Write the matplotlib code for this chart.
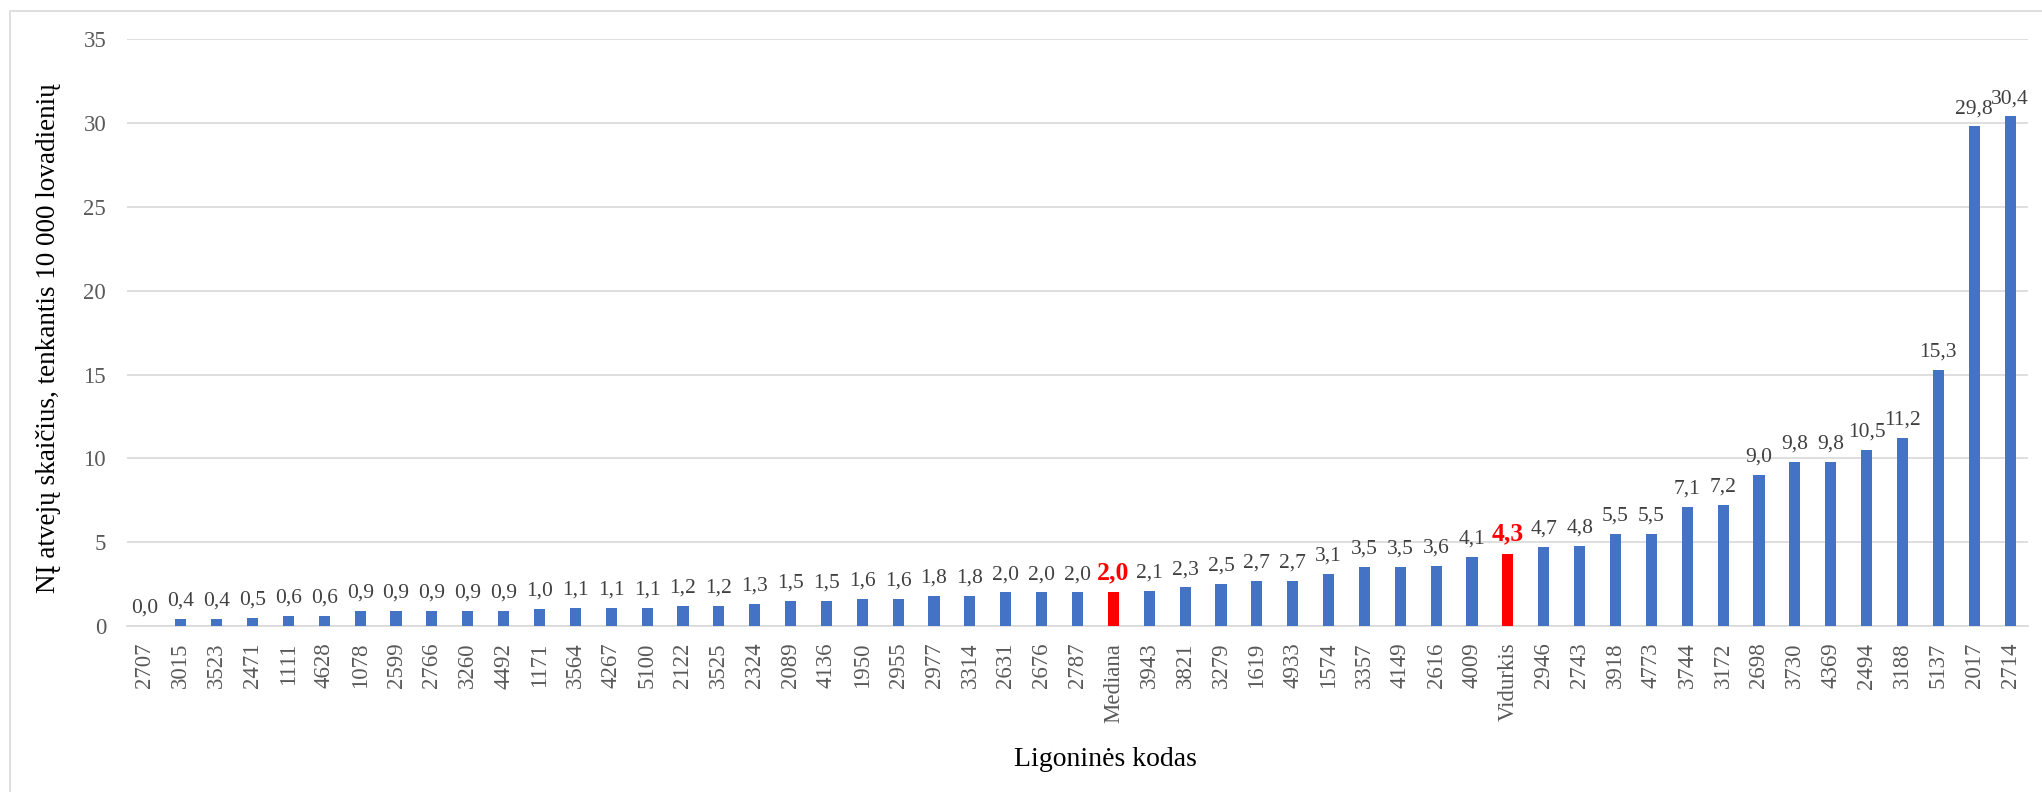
import matplotlib
matplotlib.use('Agg')
import matplotlib.pyplot as plt
import matplotlib.patches as patches

plt.rcParams['font.family'] = ['Liberation Serif', 'DejaVu Serif']

# Ligoninių kodai ir NĮ atvejų skaičius 10 000 lovadienių
codes = ['2707', '3015', '3523', '2471', '1111', '4628', '1078', '2599', '2766',
         '3260', '4492', '1171', '3564', '4267', '5100', '2122', '3525', '2324',
         '2089', '4136', '1950', '2955', '2977', '3314', '2631', '2676', '2787',
         'Mediana', '3943', '3821', '3279', '1619', '4933', '1574', '3357', '4149',
         '2616', '4009', 'Vidurkis', '2946', '2743', '3918', '4773', '3744', '3172',
         '2698', '3730', '4369', '2494', '3188', '5137', '2017', '2714']
values = [0.0, 0.4, 0.4, 0.5, 0.6, 0.6, 0.9, 0.9, 0.9,
          0.9, 0.9, 1.0, 1.1, 1.1, 1.1, 1.2, 1.2, 1.3,
          1.5, 1.5, 1.6, 1.6, 1.8, 1.8, 2.0, 2.0, 2.0,
          2.0, 2.1, 2.3, 2.5, 2.7, 2.7, 3.1, 3.5, 3.5,
          3.6, 4.1, 4.3, 4.7, 4.8, 5.5, 5.5, 7.1, 7.2,
          9.0, 9.8, 9.8, 10.5, 11.2, 15.3, 29.8, 30.4]
highlight = ['Mediana', 'Vidurkis']

blue = '#4472C4'
red = '#FF0000'
grid_c = '#D9D9D9'

fig = plt.figure(figsize=(20.42, 7.92), dpi=100)
ax = fig.add_axes([127 / 2042, 1 - 626 / 792, 1901 / 2042, 586.7 / 792])

x = list(range(len(codes)))
colors = [red if c in highlight else blue for c in codes]
ax.bar(x, values, width=0.31, color=colors, zorder=3)

# reikšmių etiketės virš stulpelių
for xi, c, v in zip(x, codes, values):
    lbl = f'{v:.1f}'.replace('.', ',')
    if c in highlight:
        ax.annotate(lbl, (xi, v), xytext=(0, 6), textcoords='offset points',
                    ha='center', va='bottom', fontsize=18.5, fontweight='bold',
                    color=red)
    else:
        ax.annotate(lbl, (xi, v), xytext=(0, 6), textcoords='offset points',
                    ha='center', va='bottom', fontsize=15.5, color='#404040')

ax.set_xlim(-0.5, len(codes) - 0.5)
ax.set_ylim(0, 35)
ax.set_yticks(range(0, 36, 5))
ax.set_xticks(x)
ax.set_xticklabels(codes, rotation=90)
ax.tick_params(axis='y', length=0, pad=15, labelsize=16.5, labelcolor='#595959')
ax.tick_params(axis='x', length=0, pad=12, labelsize=16.5, labelcolor='#595959')

ax.grid(axis='y', color=grid_c, linewidth=1.2, zorder=0)
for s in ['top', 'right', 'left']:
    ax.spines[s].set_visible(False)
ax.spines['bottom'].set_color(grid_c)
ax.spines['bottom'].set_linewidth(1.2)

fig.text(49 / 2042, 1 - 338 / 792, 'NĮ atvejų skaičius, tenkantis 10 000 lovadienių',
         rotation=90, ha='center', va='center', fontsize=19.5, color='black')
fig.text(1105 / 2042, 1 - 759 / 792, 'Ligoninės kodas',
         ha='center', va='center', fontsize=20, color='black')

# rėmelis aplink diagramą
fig.patches.append(patches.Rectangle((10 / 2042, -0.1), 1.2, 1.1 - 11 / 792,
                                     transform=fig.transFigure, fill=False,
                                     edgecolor=grid_c, linewidth=1.2))

fig.savefig('out.png', dpi=100)
